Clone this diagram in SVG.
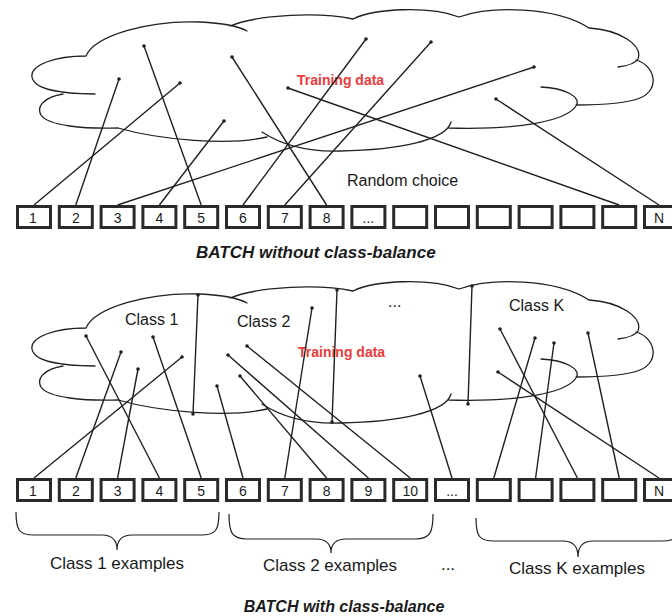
<svg xmlns="http://www.w3.org/2000/svg" xmlns:xlink="http://www.w3.org/1999/xlink" width="672" height="616" viewBox="0 0 672 616">
  <style>
    .cloud { fill: none; stroke: #231f20; stroke-width: 1.3; stroke-linecap: round; }
    .box { fill: #ffffff; stroke: #2a2a2a; stroke-width: 3; }
    .num { font-family: "Liberation Sans", Arial, sans-serif; font-size: 14px; fill: #1a1a1a; text-anchor: middle; }
    .lbl { font-family: "Liberation Sans", Arial, sans-serif; font-size: 16px; fill: #1a1a1a; }
    .big { font-size: 17px; }
    .mid { text-anchor: middle; }
    .red { font-family: "Liberation Sans", Arial, sans-serif; font-size: 14px; font-weight: bold; fill: #ee3a3a; }
    .title { font-family: "Liberation Sans", Arial, sans-serif; font-weight: bold; font-style: italic; fill: #1a1a1a; }
    .link { stroke: #231f20; stroke-width: 1.4; fill: none; }
    .dot { fill: #231f20; }
    .brace { fill: none; stroke: #231f20; stroke-width: 1.2; }
  </style>
  <defs>
    <!-- cloud outline built from separate overlapping arcs -->
    <path id="cloudShape" class="cloud" d="
      M86,56 C95,35 150,20 200,22 C220,23 238,26 247,31
      M230,26 C260,14 320,12 353,19
      M353,19 C375,8 430,6 459,17
      M459,17 C490,6 555,6 589,28
      M589,28 C620,30 643,45 638,59 C635,64 626,66 618,67
      M636,60 C656,66 660,90 640,98 C625,104 600,105 576,105
      M541,87 C565,88 582,97 576,106 C566,121 520,130 449,128
      M262,132 C285,147 310,152 340,151 C400,150 446,140 451,122
      M118,128 C160,140 230,146 267,137
      M86,56 C55,56 30,65 32,77 C34,89 60,94 95,94
      M63,94 C45,97 36,106 41,115 C48,126 85,129 118,128"/>
  </defs>

  <!-- upper panel: random sampling -->
  <g id="cloud-top">
    <use xlink:href="#cloudShape"/>
    <text class="red" x="297" y="85">Training data</text>
  </g>
  <g id="label-random">
    <text class="lbl" x="347" y="186" font-size="18">Random choice</text>
  </g>

  <g id="batch-top">
    <rect class="box" x="17.5" y="206.5" width="33" height="21"/>
    <rect class="box" x="59.3" y="206.5" width="33" height="21"/>
    <rect class="box" x="101.1" y="206.5" width="33" height="21"/>
    <rect class="box" x="142.9" y="206.5" width="33" height="21"/>
    <rect class="box" x="184.7" y="206.5" width="33" height="21"/>
    <rect class="box" x="226.5" y="206.5" width="33" height="21"/>
    <rect class="box" x="268.3" y="206.5" width="33" height="21"/>
    <rect class="box" x="310.1" y="206.5" width="33" height="21"/>
    <rect class="box" x="351.9" y="206.5" width="33" height="21"/>
    <rect class="box" x="393.7" y="206.5" width="33" height="21"/>
    <rect class="box" x="435.5" y="206.5" width="33" height="21"/>
    <rect class="box" x="477.3" y="206.5" width="33" height="21"/>
    <rect class="box" x="519.1" y="206.5" width="33" height="21"/>
    <rect class="box" x="560.9" y="206.5" width="33" height="21"/>
    <rect class="box" x="602.7" y="206.5" width="33" height="21"/>
    <rect class="box" x="644.5" y="206.5" width="33" height="21"/>
    <text class="num" x="33" y="223">1</text>
    <text class="num" x="75.8" y="223">2</text>
    <text class="num" x="117.6" y="223">3</text>
    <text class="num" x="159.4" y="223">4</text>
    <text class="num" x="201.2" y="223">5</text>
    <text class="num" x="243" y="223">6</text>
    <text class="num" x="284.8" y="223">7</text>
    <text class="num" x="326.6" y="223">8</text>
    <text class="num" x="368.4" y="223">...</text>
    <text class="num" x="659" y="223">N</text>
  </g>
  <g id="title-top">
    <text class="title" x="196" y="258" font-size="17">BATCH without class-balance</text>
  </g>

  <!-- lower panel: class-balanced sampling -->
  <g id="cloud-bottom">
    <use xlink:href="#cloudShape" transform="translate(0,272)"/>
    <text class="red" x="298" y="357">Training data</text>
  </g>
  <g id="class-labels">
    <text class="lbl" x="125" y="325">Class 1</text>
    <text class="lbl" x="237" y="327">Class 2</text>
    <text class="lbl" x="388" y="307">...</text>
    <text class="lbl" x="509" y="311">Class K</text>
  </g>

  <g id="batch-bottom">
    <rect class="box" x="17.5" y="479.5" width="33" height="21"/>
    <rect class="box" x="59.3" y="479.5" width="33" height="21"/>
    <rect class="box" x="101.1" y="479.5" width="33" height="21"/>
    <rect class="box" x="142.9" y="479.5" width="33" height="21"/>
    <rect class="box" x="184.7" y="479.5" width="33" height="21"/>
    <rect class="box" x="226.5" y="479.5" width="33" height="21"/>
    <rect class="box" x="268.3" y="479.5" width="33" height="21"/>
    <rect class="box" x="310.1" y="479.5" width="33" height="21"/>
    <rect class="box" x="351.9" y="479.5" width="33" height="21"/>
    <rect class="box" x="393.7" y="479.5" width="33" height="21"/>
    <rect class="box" x="435.5" y="479.5" width="33" height="21"/>
    <rect class="box" x="477.3" y="479.5" width="33" height="21"/>
    <rect class="box" x="519.1" y="479.5" width="33" height="21"/>
    <rect class="box" x="560.9" y="479.5" width="33" height="21"/>
    <rect class="box" x="602.7" y="479.5" width="33" height="21"/>
    <rect class="box" x="644.5" y="479.5" width="33" height="21"/>
    <text class="num" x="33" y="496">1</text>
    <text class="num" x="75.8" y="496">2</text>
    <text class="num" x="117.6" y="496">3</text>
    <text class="num" x="159.4" y="496">4</text>
    <text class="num" x="201.2" y="496">5</text>
    <text class="num" x="243" y="496">6</text>
    <text class="num" x="284.8" y="496">7</text>
    <text class="num" x="326.6" y="496">8</text>
    <text class="num" x="368.4" y="496">9</text>
    <text class="num" x="410.2" y="496">10</text>
    <text class="num" x="452" y="496">...</text>
    <text class="num" x="659" y="496">N</text>
  </g>

  <g id="group-braces">
    <path class="brace" d="M16,512 C16,530 19,535 34,535 L102,535 C112,535 117,540 117,550 C117,540 122,535 132,535 L201,535 C216,535 219,530 219,512"/>
    <path class="brace" d="M229,514 C229,533 232,539 247,539 L316,539 C326,539 331,544 331,553 C331,544 336,539 346,539 L415,539 C430,539 433,533 433,514"/>
    <path class="brace" d="M476,518 C476,536 479,541 494,541 L563,541 C573,541 578,547 578,557 C578,547 583,541 593,541 L662,541 C677,541 680,536 680,518"/>
    <text class="lbl big mid" x="117" y="569">Class 1 examples</text>
    <text class="lbl big mid" x="330" y="571">Class 2 examples</text>
    <text class="lbl big mid" x="448" y="570">...</text>
    <text class="lbl big mid" x="577" y="574">Class K examples</text>
  </g>
  <g id="title-bottom">
    <text class="title mid" x="344" y="612" font-size="16">BATCH with class-balance</text>
  </g>

  <g id="connectors">
    <!-- random picks -->
    <line class="link" x1="34" y1="205" x2="180" y2="83"/>
    <line class="link" x1="75.8" y1="205" x2="119" y2="79"/>
    <line class="link" x1="117.6" y1="205" x2="534" y2="67"/>
    <line class="link" x1="159.4" y1="205" x2="224" y2="121"/>
    <line class="link" x1="201.2" y1="205" x2="144" y2="46"/>
    <line class="link" x1="243" y1="205" x2="366" y2="39"/>
    <line class="link" x1="284.8" y1="205" x2="431" y2="42"/>
    <line class="link" x1="326.6" y1="205" x2="232" y2="57"/>
    <line class="link" x1="619.2" y1="205" x2="288" y2="88"/>
    <line class="link" x1="659" y1="205" x2="496" y2="99"/>
    <g class="dot">
      <circle cx="180" cy="83" r="1.8"/><circle cx="119" cy="79" r="1.8"/>
      <circle cx="534" cy="67" r="1.8"/><circle cx="224" cy="121" r="1.8"/>
      <circle cx="144" cy="46" r="1.8"/><circle cx="366" cy="39" r="1.8"/>
      <circle cx="431" cy="42" r="1.8"/><circle cx="232" cy="57" r="1.8"/>
      <circle cx="288" cy="88" r="1.8"/><circle cx="496" cy="99" r="1.8"/>
    </g>

    <!-- class dividers -->
    <line class="link" x1="198" y1="295" x2="193" y2="414"/>
    <line class="link" x1="337" y1="290" x2="332" y2="422"/>
    <line class="link" x1="472" y1="286" x2="468" y2="404"/>
    <g class="dot">
      <circle cx="198" cy="295" r="1.8"/><circle cx="193" cy="414" r="1.8"/>
      <circle cx="337" cy="290" r="1.8"/><circle cx="332" cy="422" r="1.8"/>
      <circle cx="472" cy="286" r="1.8"/><circle cx="468" cy="404" r="1.8"/>
    </g>

    <!-- balanced picks -->
    <line class="link" x1="34" y1="478" x2="182" y2="357"/>
    <line class="link" x1="75.8" y1="478" x2="121" y2="352"/>
    <line class="link" x1="117.6" y1="478" x2="138" y2="369"/>
    <line class="link" x1="159.4" y1="478" x2="86" y2="336"/>
    <line class="link" x1="201.2" y1="478" x2="153" y2="337"/>
    <line class="link" x1="243" y1="478" x2="217" y2="386"/>
    <line class="link" x1="284.8" y1="478" x2="312" y2="308"/>
    <line class="link" x1="326.6" y1="478" x2="240" y2="376"/>
    <line class="link" x1="368.4" y1="478" x2="228" y2="355"/>
    <line class="link" x1="410.2" y1="478" x2="247" y2="346"/>
    <line class="link" x1="452" y1="478" x2="420" y2="376"/>
    <line class="link" x1="493.8" y1="478" x2="535" y2="338"/>
    <line class="link" x1="535.6" y1="478" x2="554" y2="343"/>
    <line class="link" x1="577.4" y1="478" x2="500" y2="329"/>
    <line class="link" x1="619.2" y1="478" x2="588" y2="333"/>
    <line class="link" x1="659" y1="478" x2="498" y2="372"/>
    <g class="dot">
      <circle cx="182" cy="357" r="1.8"/><circle cx="121" cy="352" r="1.8"/>
      <circle cx="138" cy="369" r="1.8"/><circle cx="86" cy="336" r="1.8"/>
      <circle cx="153" cy="337" r="1.8"/><circle cx="217" cy="386" r="1.8"/>
      <circle cx="312" cy="308" r="1.8"/><circle cx="240" cy="376" r="1.8"/>
      <circle cx="228" cy="355" r="1.8"/><circle cx="247" cy="346" r="1.8"/>
      <circle cx="420" cy="376" r="1.8"/><circle cx="535" cy="338" r="1.8"/>
      <circle cx="554" cy="343" r="1.8"/><circle cx="500" cy="329" r="1.8"/>
      <circle cx="588" cy="333" r="1.8"/><circle cx="498" cy="372" r="1.8"/>
    </g>
  </g>
</svg>
